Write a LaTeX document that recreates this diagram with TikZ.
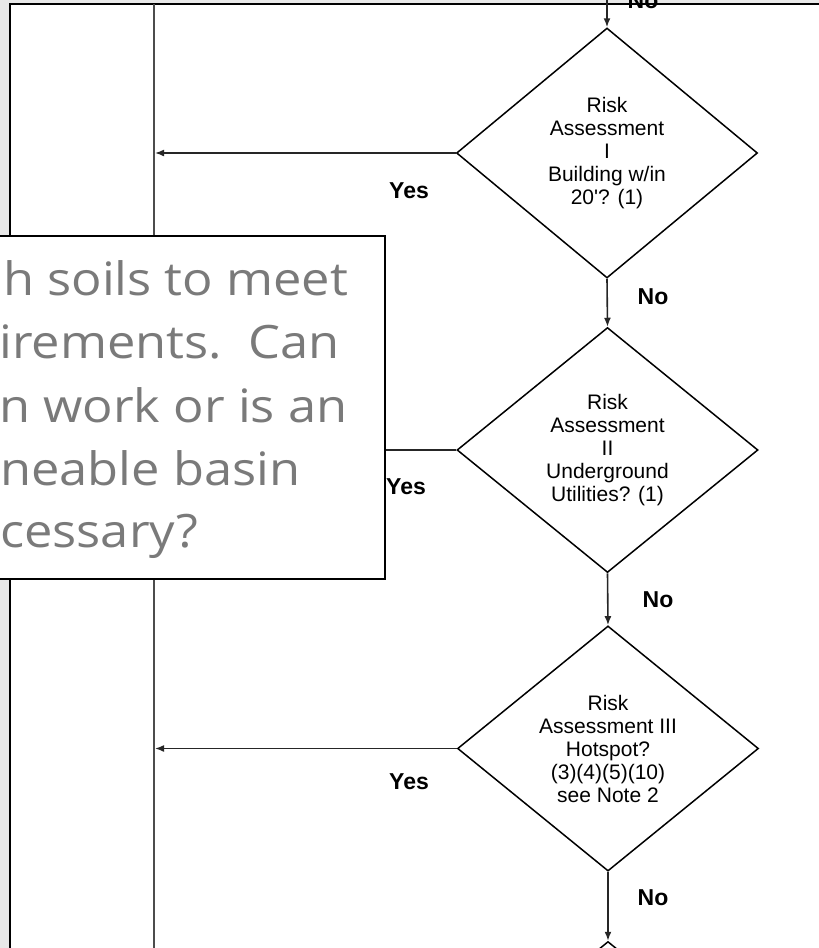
\documentclass[tikz,border=0pt]{standalone}
\usepackage{fontspec}
\setmainfont{Liberation Sans}
\newfontfamily\calloutfont[FakeStretch=1.1]{Open Sans}
\usetikzlibrary{shapes.geometric,arrows.meta}
\definecolor{notegray}{HTML}{7A7A7A}
\definecolor{haze}{HTML}{E8E8E8}
\begin{document}
\begin{tikzpicture}[x=1pt,y=-1pt,
  decision/.style={diamond, draw=black, line width=1.5pt, fill=white, inner sep=0pt,
    minimum width=301pt, minimum height=245pt, align=center,
    font=\fontsize{21}{23}\selectfont},
  flow/.style={draw=black!85, line width=1.6pt, -{Latex[length=9pt,width=7pt]}},
  frameline/.style={draw=black, line width=1.8pt},
  answer/.style={inner sep=0pt, font=\bfseries\fontsize{23}{25}\selectfont},
  noteline/.style={anchor=base west, inner sep=0pt, text=notegray,
    font=\calloutfont\fontsize{46}{63}\selectfont}]
\useasboundingbox (0,0) rectangle (819,948);

% faint backdrop along the top and left edges
\fill[haze] (0,0) rectangle (10,948);
\fill[haze] (0,0) rectangle (819,4);

% outer frame and the return bus
\coordinate (frameTL) at (10,4);
\coordinate (frameTR) at (819,4);
\coordinate (frameBL) at (10,948);
\draw[frameline] (frameBL) -- (frameTL) -- (frameTR);
\coordinate (busTop) at (154,4);
\coordinate (busBot) at (154,948);
\draw[frameline, draw=black!70] (busTop) -- (busBot);

% decisions
\node[decision, minimum height=250pt] (d1) at (607,153)
  {Risk\\Assessment\\I\\Building w/in\\20\textquotesingle? (1)};
\node[decision] (d2) at (607.5,450)
  {Risk\\Assessment\\II\\Underground\\Utilities? (1)};
\node[decision] (d3) at (608,748.5)
  {Risk\\Assessment III\\Hotspot?\\(3)(4)(5)(10)\\see Note 2};
\node[decision] (d4) at (608,1064) {};

% main flow (No branches)
\coordinate (entry) at (607,0);
\draw[flow] (entry) -- (d1.north);
\draw[flow] (d1.south) -- (d2.north);
\draw[flow] (d2.south) -- (d3.north);
\draw[flow] (d3.south) -- (d4.north);

% Yes branches back to the bus
\coordinate (bus1) at (155,153);
\coordinate (bus2) at (155,450);
\coordinate (bus3) at (155,748.5);
\draw[flow] (d1.west) -- (bus1);
\draw[flow] (d2.west) -- (bus2);
\draw[flow] (d3.west) -- (bus3);

% branch labels
\node[answer, anchor=base] (no0) at (643,8) {No};
\node[answer] (yes1) at (409,191) {Yes};
\node[answer] (no1) at (653,297) {No};
\node[answer] (yes2) at (406,487) {Yes};
\node[answer] (no2) at (658,600) {No};
\node[answer] (yes3) at (409,782) {Yes};
\node[answer] (no3) at (653,898) {No};

% callout box
\node[draw=black, line width=2pt, fill=white, anchor=north west, inner sep=0pt,
  minimum width=389pt, minimum height=343pt] (note) at (-5,235) {};
\node[noteline] (l1) at (3,295) {h soils to meet};
\node[noteline] (l2) at (-1,358) {irements.\ \ Can};
\node[noteline] (l3) at (-1,422) {n work or is an};
\node[noteline] (l4) at (0,485) {neable basin};
\node[noteline] (l5) at (0,547) {cessary?};
\end{tikzpicture}
\end{document}
